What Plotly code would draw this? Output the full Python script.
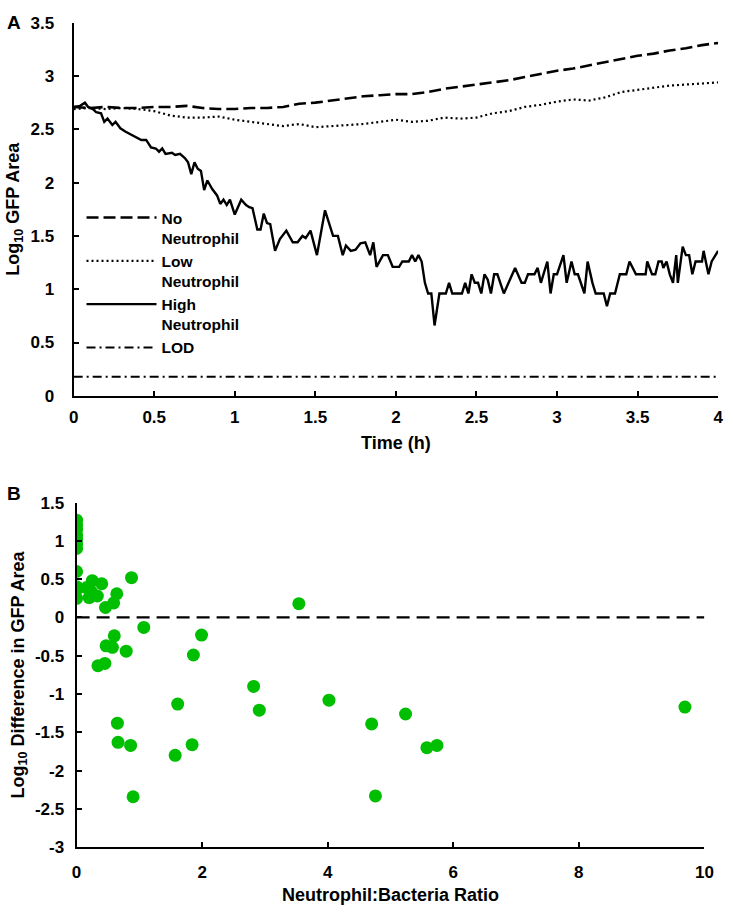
import plotly.graph_objects as go

# ---------------- Panel A data ----------------
time_no = [0, 0.1, 0.2, 0.3, 0.4, 0.5, 0.6, 0.7, 0.8, 0.9, 1.0, 1.1, 1.2, 1.3, 1.4,
           1.5, 1.6, 1.7, 1.8, 1.9, 2.0, 2.1, 2.2, 2.3, 2.4, 2.5, 2.6, 2.7, 2.8, 2.9,
           3.0, 3.1, 3.2, 3.3, 3.4, 3.5, 3.6, 3.7, 3.8, 3.9, 4.0]
no_neutrophil = [2.71, 2.70, 2.71, 2.70, 2.70, 2.71, 2.71, 2.72, 2.70, 2.69, 2.69, 2.70,
                 2.70, 2.71, 2.74, 2.75, 2.77, 2.79, 2.81, 2.82, 2.83, 2.83, 2.85, 2.88,
                 2.90, 2.92, 2.94, 2.96, 2.99, 3.02, 3.05, 3.07, 3.10, 3.13, 3.16, 3.19,
                 3.21, 3.24, 3.26, 3.29, 3.31]

time_low = time_no
low_neutrophil = [2.69, 2.70, 2.69, 2.70, 2.69, 2.67, 2.63, 2.61, 2.61, 2.62, 2.59, 2.57,
                  2.55, 2.53, 2.55, 2.52, 2.53, 2.54, 2.55, 2.57, 2.59, 2.57, 2.58, 2.61,
                  2.60, 2.61, 2.65, 2.67, 2.71, 2.73, 2.76, 2.78, 2.77, 2.80, 2.85, 2.87,
                  2.89, 2.91, 2.92, 2.93, 2.94]

time_high = [0, 0.04, 0.07, 0.09, 0.12, 0.14, 0.17, 0.19, 0.21, 0.24, 0.26, 0.29, 0.32,
             0.36, 0.39, 0.42, 0.45, 0.48, 0.51, 0.53, 0.55, 0.57, 0.61, 0.63, 0.66, 0.69,
             0.71, 0.73, 0.75, 0.77, 0.79, 0.81, 0.83, 0.86, 0.89, 0.91, 0.93, 0.95, 0.97,
             1.00, 1.04, 1.07, 1.09, 1.11, 1.14, 1.16, 1.18, 1.20, 1.22, 1.25, 1.28, 1.32,
             1.36, 1.39, 1.42, 1.44, 1.47, 1.51, 1.56, 1.61, 1.64, 1.67, 1.69, 1.72, 1.75,
             1.78, 1.81, 1.84, 1.86, 1.88, 1.92, 1.95, 1.98, 2.02, 2.04, 2.08, 2.10, 2.12,
             2.14, 2.16, 2.18, 2.20, 2.22, 2.24, 2.27, 2.31, 2.33, 2.35, 2.41, 2.43, 2.45,
             2.47, 2.49, 2.51, 2.53, 2.55, 2.57, 2.59, 2.61, 2.63, 2.67, 2.70, 2.74, 2.78,
             2.80, 2.82, 2.86, 2.88, 2.90, 2.94, 2.96, 2.98, 3.00, 3.04, 3.06, 3.09, 3.11,
             3.13, 3.17, 3.19, 3.22, 3.24, 3.29, 3.31, 3.33, 3.36, 3.39, 3.43, 3.45, 3.49,
             3.55, 3.56, 3.59, 3.61, 3.63, 3.65, 3.66, 3.68, 3.70, 3.72, 3.74, 3.75, 3.78,
             3.80, 3.82, 3.84, 3.86, 3.90, 3.91, 3.94, 3.96, 4.00]
high_neutrophil = [2.71, 2.72, 2.75, 2.71, 2.69, 2.66, 2.65, 2.57, 2.60, 2.54, 2.57, 2.51,
                   2.48, 2.45, 2.43, 2.40, 2.40, 2.33, 2.32, 2.29, 2.32, 2.27, 2.28, 2.26,
                   2.27, 2.23, 2.19, 2.08, 2.19, 2.13, 2.11, 1.93, 2.02, 1.94, 1.88, 1.80,
                   1.84, 1.79, 1.84, 1.70, 1.84, 1.79, 1.77, 1.76, 1.56, 1.56, 1.71, 1.62,
                   1.61, 1.36, 1.47, 1.55, 1.44, 1.44, 1.50, 1.48, 1.55, 1.32, 1.74, 1.50,
                   1.50, 1.32, 1.41, 1.36, 1.37, 1.43, 1.44, 1.32, 1.44, 1.21, 1.32, 1.32,
                   1.21, 1.21, 1.26, 1.26, 1.32, 1.26, 1.32, 1.26, 1.06, 0.96, 0.96, 0.66,
                   0.96, 0.96, 1.06, 0.96, 0.96, 1.06, 0.96, 1.14, 1.06, 1.06, 0.96, 1.14,
                   1.09, 0.96, 1.14, 1.14, 0.96, 1.06, 1.20, 1.06, 1.06, 1.14, 1.14, 1.20,
                   1.06, 1.26, 0.96, 1.14, 1.14, 1.32, 1.06, 1.26, 1.14, 1.14, 0.96, 1.26,
                   1.06, 0.96, 0.96, 0.84, 0.96, 0.96, 1.14, 1.14, 1.26, 1.14, 1.14, 1.26,
                   1.14, 1.14, 1.26, 1.26, 1.20, 1.26, 1.14, 1.06, 1.32, 1.06, 1.40, 1.32,
                   1.32, 1.14, 1.26, 1.26, 1.36, 1.14, 1.26, 1.36]

lod_time = [0, 4]
lod_value = [0.18, 0.18]

# ---------------- Panel B data ----------------
ratio = [0, 0, 0, 0, 0, 0, 0, 0, 0, 0.02, 0, 0.16, 0.20, 0.23, 0.25, 0.33, 0.40,
         0.46, 0.59, 0.64, 0.875, 1.07, 3.54, 0.60, 0.47, 0.57, 0.79, 1.99, 1.86,
         0.34, 0.45, 2.82, 2.91, 1.61, 4.02, 4.70, 5.24, 5.58, 5.74, 9.69, 0.65,
         0.66, 0.86, 1.57, 1.84, 0.90, 4.76]
log_diff = [1.27, 1.21, 1.15, 1.08, 1.02, 0.96, 0.90, 0.60, 0.40, 0.38, 0.25, 0.39,
            0.26, 0.34, 0.48, 0.28, 0.44, 0.13, 0.19, 0.31, 0.52, -0.13, 0.18, -0.24,
            -0.37, -0.39, -0.44, -0.23, -0.49, -0.63, -0.60, -0.90, -1.21, -1.13,
            -1.08, -1.39, -1.26, -1.70, -1.67, -1.17, -1.38, -1.63, -1.67, -1.80,
            -1.66, -2.34, -2.33]
zero_x = [0, 10]
zero_y = [0, 0]

# tick labels
a_xticks = [0, 0.5, 1, 1.5, 2, 2.5, 3, 3.5, 4]
a_xtext = ["0", "0.5", "1", "1.5", "2", "2.5", "3", "3.5", "4"]
a_yticks = [0, 0.5, 1, 1.5, 2, 2.5, 3, 3.5]
a_ytext = ["0", "0.5", "1", "1.5", "2", "2.5", "3", "3.5"]
b_xticks = [0, 2, 4, 6, 8, 10]
b_xtext = ["0", "2", "4", "6", "8", "10"]
b_yticks = [-3, -2.5, -2, -1.5, -1, -0.5, 0, 0.5, 1, 1.5]
b_ytext = ["-3", "-2.5", "-2", "-1.5", "-1", "-0.5", "0", "0.5", "1", "1.5"]

FONT = "Liberation Sans, Arial, sans-serif"
W, H = 733, 918

fig = go.Figure()
fig.add_trace(go.Scatter(x=time_no, y=no_neutrophil, mode="lines", name="No<br>Neutrophil",
                         line=dict(color="black", width=2.6, dash="12px,5px"),
                         xaxis="x", yaxis="y"))
fig.add_trace(go.Scatter(x=time_low, y=low_neutrophil, mode="lines", name="Low<br>Neutrophil",
                         line=dict(color="black", width=2.2, dash="2px,3px"),
                         xaxis="x", yaxis="y"))
fig.add_trace(go.Scatter(x=time_high, y=high_neutrophil, mode="lines", name="High<br>Neutrophil",
                         line=dict(color="black", width=2.4),
                         xaxis="x", yaxis="y"))
fig.add_trace(go.Scatter(x=lod_time, y=lod_value, mode="lines", name="LOD",
                         line=dict(color="black", width=2, dash="9px,4px,2px,4px"),
                         xaxis="x", yaxis="y"))
fig.add_trace(go.Scatter(x=zero_x, y=zero_y, mode="lines", showlegend=False,
                         line=dict(color="black", width=2.2, dash="13px,7px"),
                         xaxis="x2", yaxis="y2"))
fig.add_trace(go.Scatter(x=ratio, y=log_diff, mode="markers", showlegend=False,
                         marker=dict(color="rgb(0,190,0)", size=13, line=dict(width=0)),
                         xaxis="x2", yaxis="y2"))

TICKFONT = dict(family=FONT, size=17, color="black", weight="bold")
TITLEFONT = dict(family=FONT, size=18, color="black", weight="bold")

axis_common = dict(showline=True, linecolor="black", linewidth=2, ticks="inside",
                   ticklen=5, tickwidth=2, tickcolor="black", showgrid=False,
                   zeroline=False, tickfont=TICKFONT, mirror=False,
                   ticklabeloverflow="allow")

fig.update_layout(
    width=W, height=H,
    margin=dict(l=0, r=0, t=0, b=0),
    paper_bgcolor="white", plot_bgcolor="white",
    font=dict(family=FONT, color="black", size=16, weight="bold"),
    xaxis=dict(domain=[70 / W, 727 / W], range=[0, 4], anchor="y",
               tickvals=a_xticks, ticktext=a_xtext, ticklabelstandoff=5,
               title=dict(text="Time (h)", font=TITLEFONT, standoff=10),
               **axis_common),
    yaxis=dict(domain=[1 - 395 / H, 1 - 14 / H], range=[0, 3.5], anchor="x",
               tickvals=a_yticks, ticktext=a_ytext, ticklabelstandoff=14,
               title=dict(text="Log<sub>10</sub> GFP Area", font=TITLEFONT, standoff=6),
               **axis_common),
    xaxis2=dict(domain=[73 / W, 713 / W], range=[0, 10], anchor="y2",
                tickvals=b_xticks, ticktext=b_xtext, ticklabelstandoff=8,
                title=dict(text="Neutrophil:Bacteria Ratio", font=TITLEFONT, standoff=8),
                **axis_common),
    yaxis2=dict(domain=[1 - 856 / H, 1 - 504 / H], range=[-3, 1.5], anchor="x2",
                tickvals=b_yticks, ticktext=b_ytext, ticklabelstandoff=7,
                title=dict(text="Log<sub>10</sub> Difference in GFP Area", font=TITLEFONT, standoff=6),
                **axis_common),
    legend=dict(x=78 / W, y=1 - 196 / H, xanchor="left", yanchor="top",
                bgcolor="rgba(0,0,0,0)", itemwidth=70, valign="top",
                font=dict(family=FONT, size=15.5, color="black", weight="bold"),
                tracegroupgap=0),
    annotations=[
        dict(text="A", x=0, y=1 - 1 / H, xref="paper", yref="paper", xanchor="left", yanchor="top",
             showarrow=False, font=dict(family=FONT, size=19, weight="bold", color="black")),
        dict(text="B", x=0, y=1 - 482 / H, xref="paper", yref="paper", xanchor="left", yanchor="top",
             showarrow=False, font=dict(family=FONT, size=19, weight="bold", color="black")),
    ],
    showlegend=True,
)

fig.write_html("out.html", config={"displayModeBar": False},
               post_script="document.body.style.margin='0';document.body.style.overflow='hidden';")
